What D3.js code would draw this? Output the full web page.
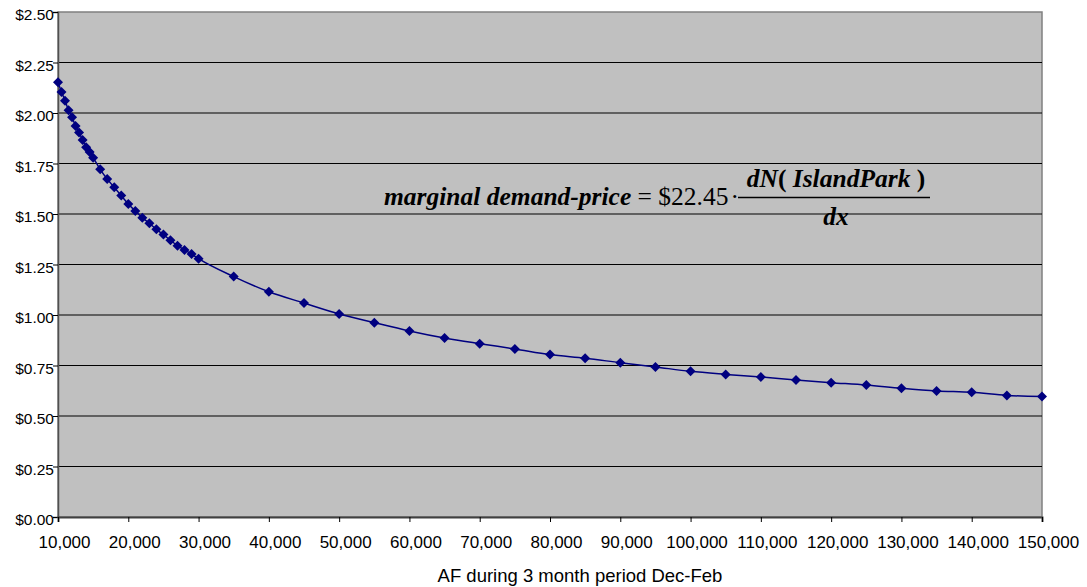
<!DOCTYPE html>
<html>
<head>
<meta charset="utf-8">
<script src="https://cdn.jsdelivr.net/npm/d3@7"></script>
<style>
  html, body { margin: 0; padding: 0; background: #fff; }
  svg { display: block; }
</style>
</head>
<body>
<svg id="chart" width="1087" height="587"></svg>
<script>
// Acre-feet of storage (Dec-Feb) and the marginal demand price at each amount
const acreFeet = [
  10000, 10500, 11000, 11500, 12000, 12500, 13000, 13500, 14000, 14500, 15000,
  16000, 17000, 18000, 19000, 20000, 21000, 22000, 23000, 24000, 25000,
  26000, 27000, 28000, 29000, 30000,
  35000, 40000, 45000, 50000, 55000, 60000, 65000, 70000, 75000, 80000,
  85000, 90000, 95000, 100000, 105000, 110000, 115000, 120000, 125000,
  130000, 135000, 140000, 145000, 150000
];
const price = [
  2.152, 2.104, 2.061, 2.013, 1.979, 1.936, 1.904, 1.866, 1.830, 1.807, 1.779,
  1.721, 1.673, 1.632, 1.591, 1.550, 1.515, 1.482, 1.454, 1.424, 1.398,
  1.370, 1.343, 1.322, 1.302, 1.279,
  1.190, 1.115, 1.059, 1.005, 0.962, 0.921, 0.886, 0.858, 0.832, 0.804,
  0.786, 0.764, 0.743, 0.721, 0.706, 0.693, 0.678, 0.665, 0.653,
  0.637, 0.624, 0.617, 0.602, 0.596
];
const xTicks = [10000, 20000, 30000, 40000, 50000, 60000, 70000, 80000,
  90000, 100000, 110000, 120000, 130000, 140000, 150000];
const yTicks = [0, 0.25, 0.5, 0.75, 1.0, 1.25, 1.5, 1.75, 2.0, 2.25, 2.5];
const xTitle = "AF during 3 month period Dec-Feb";

const svg = d3.select("#chart");
const plotL = 58, plotR = 1042, plotT = 12, plotB = 517;

const x = d3.scaleLinear().domain([10000, 150000]).range([plotL, plotR]);
const y = d3.scaleLinear().domain([0, 2.5]).range([plotB, plotT]);

// plot area
svg.append("rect")
  .attr("x", plotL).attr("y", plotT)
  .attr("width", plotR - plotL).attr("height", plotB - plotT)
  .attr("fill", "#c0c0c0")
  .attr("stroke", "#808080").attr("stroke-width", 1.5);

// horizontal gridlines
svg.append("g")
  .selectAll("line")
  .data(yTicks.filter(v => v > 0 && v < 2.5))
  .join("line")
  .attr("x1", plotL).attr("x2", plotR)
  .attr("y1", d => y(d)).attr("y2", d => y(d))
  .attr("stroke", "#000").attr("stroke-width", 1);

// y axis
const yAxis = svg.append("g")
  .attr("transform", `translate(${plotL},0)`)
  .call(d3.axisLeft(y).tickValues(yTicks).tickSize(5).tickPadding(-1)
    .tickFormat(d3.format("$.2f")));
yAxis.select(".domain").attr("stroke", "#505050").attr("stroke-width", 1.5);
yAxis.selectAll(".tick line").attr("stroke", "#000");
yAxis.selectAll(".tick text")
  .attr("font-family", "'Liberation Sans', Arial, sans-serif")
  .attr("font-size", 15.5).attr("fill", "#000")
  .attr("dy", "0.5em");

// x axis
const xAxis = svg.append("g")
  .attr("transform", `translate(0,${plotB})`)
  .call(d3.axisBottom(x).tickValues(xTicks).tickSize(5).tickPadding(14)
    .tickFormat(d3.format(",")));
xAxis.select(".domain").attr("stroke", "#404040").attr("stroke-width", 2);
xAxis.selectAll(".tick line").attr("stroke", "#000");
xAxis.selectAll(".tick text")
  .attr("font-family", "'Liberation Sans', Arial, sans-serif")
  .attr("font-size", 17).attr("fill", "#000")
  .attr("dx", 6);

// x axis title
svg.append("text")
  .attr("x", 580).attr("y", 582)
  .attr("text-anchor", "middle")
  .attr("font-family", "'Liberation Sans', Arial, sans-serif")
  .attr("font-size", 18.5)
  .text(xTitle);

// demand curve
const pts = acreFeet.map((a, i) => [a, price[i]]);
svg.append("path")
  .datum(pts)
  .attr("fill", "none")
  .attr("stroke", "#000080")
  .attr("stroke-width", 1.5)
  .attr("d", d3.line().x(d => x(d[0])).y(d => y(d[1])).curve(d3.curveMonotoneX));

// diamond markers
const diamond = d3.symbol().type(d3.symbolSquare).size(50);
svg.append("g")
  .selectAll("path")
  .data(pts)
  .join("path")
  .attr("d", diamond)
  .attr("transform", d => `translate(${x(d[0])},${y(d[1])}) rotate(45)`)
  .attr("fill", "#000080");

// formula annotation
const serif = "'Liberation Serif', 'Times New Roman', serif";
const fSize = 25.5;
const eq = svg.append("text")
  .attr("x", 384).attr("y", 205)
  .attr("font-family", serif).attr("font-size", fSize);
eq.append("tspan").attr("font-weight", "bold").attr("font-style", "italic")
  .text("marginal demand-price");
eq.append("tspan").text(" = $22.45");
eq.append("tspan").attr("dx", 2).text("\u00b7");

const fx1 = 738, fx2 = 930;
const num = svg.append("text")
  .attr("x", 836).attr("y", 187)
  .attr("text-anchor", "middle")
  .attr("font-family", serif).attr("font-size", fSize)
  .attr("font-weight", "bold").attr("font-style", "italic");
num.append("tspan").text("dN");
num.append("tspan").attr("font-style", "normal").text("( ");
num.append("tspan").text("IslandPark");
num.append("tspan").attr("font-style", "normal").text(" )");

svg.append("line")
  .attr("x1", fx1).attr("x2", fx2)
  .attr("y1", 197.5).attr("y2", 197.5)
  .attr("stroke", "#000").attr("stroke-width", 1.5);

svg.append("text")
  .attr("x", 836).attr("y", 225)
  .attr("text-anchor", "middle")
  .attr("font-family", serif).attr("font-size", fSize)
  .attr("font-weight", "bold").attr("font-style", "italic")
  .text("dx");
</script>
</body>
</html>
